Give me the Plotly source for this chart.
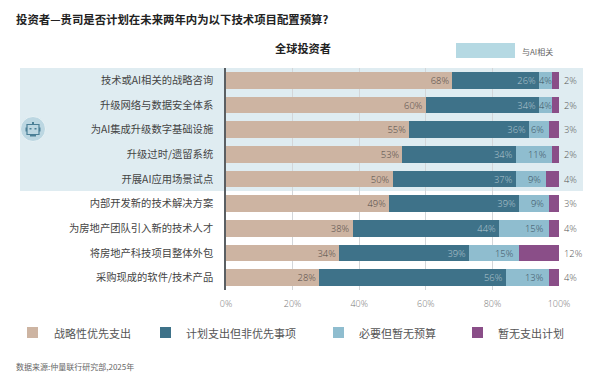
import plotly.graph_objects as go

W, H = 600, 388
ML, MR, MT, MB = 226, 41, 68, 98

categories = ["技术或AI相关的战略咨询", "升级网络与数据安全体系", "为AI集成升级数字基础设施",
              "升级过时/遗留系统", "开展AI应用场景试点", "内部开发新的技术解决方案",
              "为房地产团队引入新的技术人才", "将房地产科技项目整体外包", "采购现成的软件/技术产品"]
strategic = [68, 60, 55, 53, 50, 49, 38, 34, 28]
planned = [26, 34, 36, 34, 37, 39, 44, 39, 56]
needed = [4, 4, 6, 11, 9, 9, 15, 15, 13]
none_planned = [2, 2, 3, 2, 4, 3, 4, 12, 4]
series_names = ["战略性优先支出", "计划支出但非优先事项", "必要但暂无预算", "暂无支出计划"]
x_ticks = [0, 20, 40, 60, 80, 100]

TAN, TEAL, LIGHT, PURPLE = "#cdb4a2", "#3e7289", "#8fbdcf", "#8a4e88"
BAND = "#dfecf1"
LATIN = "Open Sans, Noto Sans CJK SC, sans-serif"
CJK = "Noto Sans CJK SC, sans-serif"


def px(x):
    return (x - ML) / (W - ML - MR)


def py(y):
    return 1 - (y - MT) / (H - MT - MB)


def rect(x0, y0, x1, y1, fill, line=None, width=0, layer="above"):
    return dict(type="rect", xref="paper", yref="paper", x0=px(x0), x1=px(x1), y0=py(y1), y1=py(y0),
                fillcolor=fill, line=dict(color=line or fill, width=width), layer=layer)


def note(x, y, text, size, color=("#444"), anchor="left", family=CJK):
    return dict(xref="paper", yref="paper", x=px(x), y=py(y), text=text, showarrow=False,
                xanchor=anchor, yanchor="middle", font=dict(family=family, size=size, color=color),
                borderpad=0, borderwidth=0)


fig = go.Figure()
for vals, name, col, tcol in [
    (strategic, series_names[0], TAN, "#4f4845"),
    (planned, series_names[1], TEAL, "#b4c7d0"),
]:
    fig.add_bar(y=categories, x=vals, name=name, orientation="h", marker=dict(color=col, line_width=0),
                text=[f"{v}%" for v in vals], textposition="inside", insidetextanchor="end",
                textangle=0, constraintext="none",
                textfont=dict(family=LATIN, size=9.4, color=tcol, weight=300), showlegend=False)
fig.add_bar(y=categories, x=needed, name=series_names[2], orientation="h",
            marker=dict(color=LIGHT, line_width=0), showlegend=False)
fig.add_bar(y=categories, x=none_planned, name=series_names[3], orientation="h",
            marker=dict(color=PURPLE, line_width=0), showlegend=False)

annotations = [
    note(16, 19, "<b>投资者—贵司是否计划在未来两年内为以下技术项目配置预算?</b>", 11.4, "#222"),
    note(303, 48, "<b>全球投资者</b>", 11.2, "#222", "center"),
    note(522, 51, "与AI相关", 8, "#666"),
    note(16, 366, "数据来源:仲量联行研究部,2025年", 8, "#666"),
]
# labels for the third series: narrow bars centre the label, wider ones sit at the bar end
for c, a, b, v in zip(categories, strategic, planned, needed):
    narrow = v <= 4
    annotations.append(dict(xref="x", yref="y", x=a + b + (v / 2 if narrow else v), y=c, text=f"{v}%",
                            showarrow=False, xanchor="center" if narrow else "right",
                            xshift=0 if narrow else -3,
                            font=dict(family=LATIN, size=9.4, color="#3a5060", weight=300)))
# outside labels for the last series
for c, v in zip(categories, none_planned):
    annotations.append(dict(xref="x", yref="y", x=100, y=c, text=f"{v}%", showarrow=False, xanchor="left",
                            xshift=3, font=dict(family=LATIN, size=9.4, color="#555", weight=300)))

shapes = [
    rect(20, 68, 583, 191, BAND, layer="below"),
    rect(456, 43, 515, 58, "#b5d9e3"),
    dict(type="circle", xref="paper", yref="paper", x0=px(20.5), x1=px(45.5), y0=py(141.5), y1=py(116.5),
         fillcolor="#bcd7e2", line=dict(color="#e8f2f5", width=1)),
    rect(27, 124.5, 39, 134.5, "rgba(0,0,0,0)", "#4a7f96", 1.2),
    rect(25.5, 127.5, 27, 131.5, "#4a7f96"),
    rect(39, 127.5, 40.5, 131.5, "#4a7f96"),
    rect(32, 122, 34, 124.5, "#4a7f96"),
    rect(29.5, 128, 31.5, 129.5, "#4a7f96"),
    rect(34.5, 128, 36.5, 129.5, "#4a7f96"),
    rect(30, 134.5, 36, 136.5, "#4a7f96"),
]
# bottom legend
for (sx, tx), name, col in zip([(27, 54), (160, 186), (333, 359), (472, 498)], series_names,
                               [TAN, TEAL, LIGHT, PURPLE]):
    shapes.append(rect(sx, 327, sx + 11, 338, col))
    annotations.append(note(tx, 333, name, 11, "#555"))

fig.update_layout(
    width=W, height=H, autosize=False, barmode="stack", bargap=0.33,
    margin=dict(l=ML, r=MR, t=MT, b=MB, pad=0),
    paper_bgcolor="white", plot_bgcolor="rgba(0,0,0,0)",
    shapes=shapes, annotations=annotations,
    xaxis=dict(range=[0, 100], tickvals=x_ticks, ticktext=[f"{t}%" for t in x_ticks],
               showgrid=True, gridcolor="#d3d6d9", gridwidth=1.3, zeroline=False,
               ticks="outside", ticklen=5, tickcolor="rgba(0,0,0,0)",
               tickfont=dict(family=LATIN, size=9, color="#777", weight=300)),
    yaxis=dict(autorange="reversed", showline=True, linecolor="#5a5f63", linewidth=1.5,
               showgrid=False, zeroline=False, ticks="outside", ticklen=9, tickcolor="rgba(0,0,0,0)",
               tickfont=dict(family=CJK, size=10.3, color="#444")),
)
fig.write_html("out.html", config={"displayModeBar": False},
               post_script="document.body.style.margin='0';document.documentElement.style.overflow='hidden';")
